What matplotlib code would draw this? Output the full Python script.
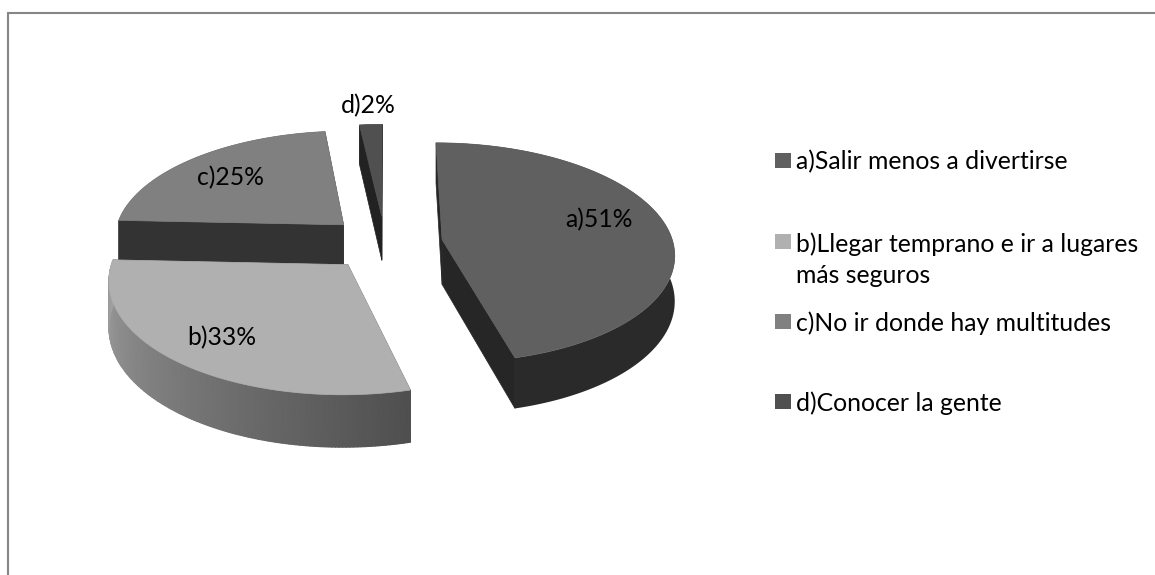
import numpy as np
import matplotlib
matplotlib.use("Agg")
import matplotlib.pyplot as plt
from matplotlib.patches import Polygon, Rectangle
from matplotlib.colors import LinearSegmentedColormap

plt.rcParams['font.family'] = ['Lato', 'DejaVu Sans']

keys = ['a', 'b', 'c', 'd']
values = [51, 33, 25, 2]
legend_labels = ['a)Salir menos a divertirse',
                 'b)Llegar temprano e ir a lugares\nmás seguros',
                 'c)No ir donde hay multitudes',
                 'd)Conocer la gente']
top_colors = ['#606060', '#b0b0b0', '#808080', '#505050']
wall_start = ['#2a2a2a', '#4f4f4f', '#333333', '#222222']
wall_end = ['#2a2a2a', '#a2a2a2', '#333333', '#222222']
radial_colors = ['#262626', '#4f4f4f', '#333333', '#222222']
label_pos = [(599, 220), (222, 338), (230, 178), (368, 106)]
legend_y = [162, 259.5, 323, 403]
square_y = [160, 241, 321, 401]
draw_order = [3, 2, 0, 1]

CX, CY, RX, RY, PERSP, DEPTH, EXPLODE = 385, 243, 231, 109, 0.119, 45, 0.25

def project(X, Y, drop=0.0):
    w = 1 + PERSP * Y
    return CX + RX * X / w, CY - RY * Y / w + drop * DEPTH / w

fig = plt.figure(figsize=(11.55, 5.75), dpi=100)
ax = fig.add_axes([0, 0, 1, 1])
ax.set_xlim(0, 1155)
ax.set_ylim(575, 0)
ax.axis('off')

# Chart frame (open at right and bottom, as cropped)
ax.plot([7.5, 7.5, 1155], [575, 13, 13], color='#868686', lw=1.5, solid_joinstyle='miter')

total = sum(values)
spans = []
start = np.pi / 2
for v in values:
    end = start - 2 * np.pi * v / total
    spans.append((start, end))
    start = end

for i in draw_order:
    t0, t1 = spans[i]
    mid = (t0 + t1) / 2
    ox, oy = EXPLODE * np.cos(mid), EXPLODE * np.sin(mid)
    th = np.linspace(t0, t1, 140)
    X, Y = ox + np.cos(th), oy + np.sin(th)
    tx, ty = project(X, Y)
    bx, by = project(X, Y, 1.0)
    a_top = project(ox, oy)
    a_bot = project(ox, oy, 1.0)
    # radial walls
    for k in (0, -1):
        ax.add_patch(Polygon([a_top, (tx[k], ty[k]), (bx[k], by[k]), a_bot],
                             closed=True, fc=radial_colors[i], ec=radial_colors[i], lw=0.5))
    # outer wall: flat base, plus a smooth shade where the colour changes
    base = list(zip(tx, ty)) + list(zip(bx[::-1], by[::-1]))
    ax.add_patch(Polygon(base, closed=True, fc=wall_end[i], ec='none', lw=0))
    if wall_start[i] != wall_end[i]:
        cmap = LinearSegmentedColormap.from_list('w', [wall_start[i], wall_end[i]])
        shade = np.linspace(0, 1, len(th))
        ax.pcolormesh(np.vstack([tx, bx]), np.vstack([ty, by]), np.vstack([shade, shade]),
                      cmap=cmap, shading='gouraud', vmin=0, vmax=1)
    # top face
    pts = [a_top] + list(zip(tx, ty))
    ax.add_patch(Polygon(pts, closed=True, fc=top_colors[i], ec=top_colors[i], lw=0.5))

ax.set_xlim(0, 1155)
ax.set_ylim(575, 0)

for k, v, (x, y) in zip(keys, values, label_pos):
    ax.text(x, y, f'{k}){v}%', ha='center', va='center', fontsize=17.8, color='black')

for lab, col, y, sy in zip(legend_labels, top_colors, legend_y, square_y):
    ax.add_patch(Rectangle((775, sy - 7.5), 16, 15, fc=col, ec='none'))
    ax.text(796, y, lab, ha='left', va='center', fontsize=17.8, color='black', linespacing=1.45)

fig.savefig('out.png', dpi=100)
